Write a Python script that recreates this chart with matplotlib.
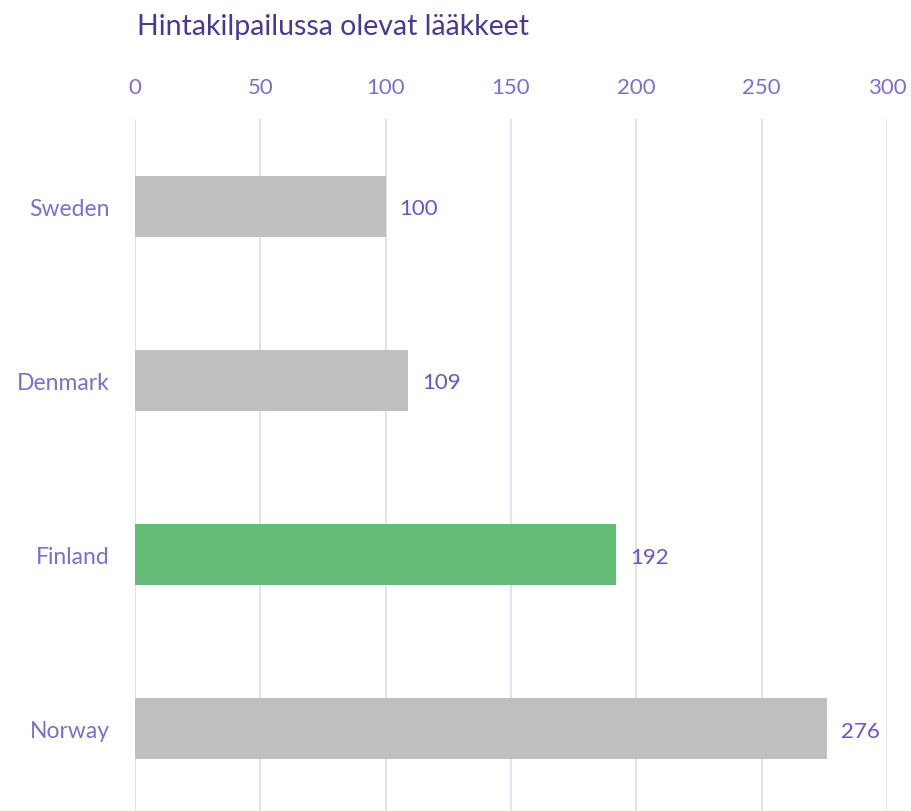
import matplotlib.pyplot as plt

countries = ["Sweden", "Denmark", "Finland", "Norway"]
values = [100, 109, 192, 276]
bar_colors = ["#c0c0c0", "#c0c0c0", "#63bb76", "#c0c0c0"]
xticks = [0, 50, 100, 150, 200, 250, 300]

plt.rcParams['font.family'] = ['Lato', 'DejaVu Sans']

fig = plt.figure(figsize=(9.11, 8.12), dpi=100)
ax = fig.add_axes([135 / 911, -5 / 812, 752 / 911, 697 / 812])

ypos = range(len(countries))
ax.barh(ypos, values, height=0.35, color=bar_colors, zorder=2)
for y, v in zip(ypos, values):
    ax.annotate(str(v), (v, y), xytext=(10, 0), textcoords='offset points',
                va='center_baseline', ha='left', fontsize=16, color='#6a55c8')

ax.set_xlim(0, 300)
ax.set_ylim(3.5, -0.5)
ax.set_xticks(xticks)
ax.set_yticks(list(ypos))
ax.set_yticklabels(countries)
ax.xaxis.tick_top()
ax.tick_params(axis='x', length=0, pad=16, labelsize=16, labelcolor='#7b6fd0')
ax.tick_params(axis='y', length=0, pad=18, labelsize=16.5, labelcolor='#7b6fd0')
ax.grid(axis='x', color='#e0dcf5', linewidth=1.3, zorder=0)
ax.set_axisbelow(True)
for s in ax.spines.values():
    s.set_visible(False)

fig.text(137 / 911, 1 - 27 / 812, "Hintakilpailussa olevat lääkkeet",
         fontsize=20.5, color='#463a96', va='center', ha='left')

fig.savefig("out.png", dpi=100)
